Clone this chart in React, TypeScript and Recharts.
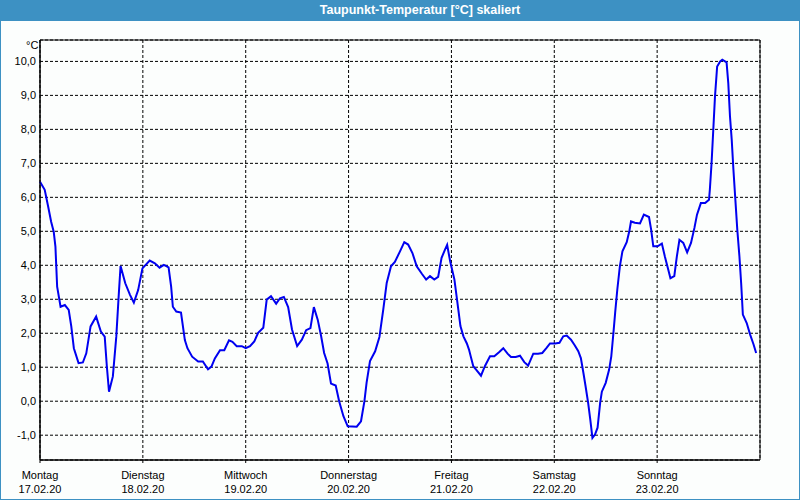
import {
  LineChart,
  Line,
  XAxis,
  YAxis,
  CartesianGrid,
  ReferenceArea,
} from "recharts";

// hours since Monday 17.02.20 00:00
const hours: number[] = [
  0, 1.1, 1.9, 2.6, 3.2, 3.6, 3.8, 4.0, 4.8, 5.8, 6.7, 7.3, 7.9, 9.0, 10.0, 10.8,
  11.8, 13.1, 14.2, 15.1, 15.6, 16.1, 17.0, 17.8, 18.4, 18.8, 19.9, 21.0, 21.9,
  22.9, 23.9, 25.6, 26.8, 27.9, 28.9, 30.0, 30.6, 31.0, 31.8, 32.9, 33.8, 34.4,
  35.5, 36.9, 38.0, 39.2, 40.0, 40.8, 42.0, 43.0, 44.1, 44.9, 45.9, 47.1, 48.0,
  49.0, 50.0, 50.9, 52.1, 52.9, 53.9, 55.1, 56.0, 56.9, 57.9, 58.8, 60.0, 61.1,
  62.1, 63.1, 63.9, 64.8, 65.6, 66.3, 67.1, 67.9, 69.0, 69.8, 70.8, 71.8, 73.9,
  74.9, 75.7, 76.2, 77.0, 78.2, 79.2, 80.1, 80.9, 81.9, 82.8, 84.0, 85.0, 85.9,
  86.9, 87.9, 89.1, 90.1, 91.0, 92.0, 92.9, 93.7, 94.5, 95.0, 95.7, 96.7, 97.2,
  97.6, 98.1, 98.8, 99.6, 100.1, 100.6, 101.1, 101.9, 102.9, 103.8, 105.0,
  106.0, 107.1, 108.1, 109.1, 109.9, 111.0, 112.0, 113.0, 113.9, 115.1, 116.2,
  117.2, 118.2, 119.0, 120.2, 121.2, 122.1, 122.9, 123.9, 124.8, 125.6, 126.2,
  126.8, 127.3, 127.9, 128.4, 128.9, 129.5, 130.1, 130.7, 131.1, 132.0, 132.8,
  133.3, 133.8, 134.2, 134.7, 135.3, 135.9, 136.9, 137.5, 137.9, 138.8, 140.0,
  140.9, 142.1, 142.6, 143.1, 144.1, 145.1, 145.8, 146.6, 147.1, 148.0, 148.6,
  149.2, 150.1, 151.0, 151.9, 152.7, 153.3, 154.2, 155.2, 156.1, 156.3, 156.7,
  157.1, 157.5, 158.0, 158.7, 159.2, 160.2, 160.6, 161.0, 161.4, 161.8, 162.2,
  162.7, 163.2, 163.6, 164.0, 164.9, 165.7, 166.5, 167.1,
];

const dewPoint: number[] = [
  6.46, 6.22, 5.73, 5.28, 4.99, 4.55, 3.96, 3.37, 2.78, 2.83, 2.69, 2.2, 1.56,
  1.12, 1.14, 1.41, 2.2, 2.49, 2.05, 1.9, 1.02, 0.28, 0.73, 1.9, 3.18, 3.98,
  3.47, 3.13, 2.9, 3.27, 3.91, 4.14, 4.06, 3.93, 4.01, 3.94, 3.37, 2.78, 2.64,
  2.61, 1.8, 1.56, 1.31, 1.17, 1.17, 0.94, 1.02, 1.26, 1.5, 1.5, 1.79, 1.75,
  1.62, 1.62, 1.56, 1.62, 1.76, 2.01, 2.16, 2.99, 3.09, 2.87, 3.03, 3.07, 2.77,
  2.11, 1.62, 1.81, 2.09, 2.15, 2.77, 2.4, 1.91, 1.42, 1.11, 0.52, 0.46, 0.0,
  -0.44, -0.74, -0.75, -0.59, 0.0, 0.54, 1.18, 1.47, 1.89, 2.7, 3.48, 3.97, 4.1,
  4.41, 4.68, 4.61, 4.36, 3.97, 3.75, 3.58, 3.68, 3.58, 3.66, 4.22, 4.46, 4.6,
  4.12, 3.58, 3.09, 2.7, 2.21, 1.91, 1.7, 1.52, 1.27, 1.03, 0.91, 0.75, 1.03,
  1.32, 1.32, 1.44, 1.56, 1.4, 1.3, 1.3, 1.34, 1.15, 1.05, 1.4, 1.4, 1.42, 1.57,
  1.7, 1.7, 1.72, 1.91, 1.93, 1.81, 1.64, 1.47, 1.27, 0.83, 0.44, -0.05, -0.54,
  -1.08, -0.98, -0.78, -0.05, 0.28, 0.54, 0.93, 1.32, 2.01, 2.6, 3.28, 3.97,
  4.41, 4.68, 5.0, 5.29, 5.25, 5.23, 5.49, 5.42, 5.05, 4.56, 4.56, 4.64, 4.26,
  3.87, 3.62, 3.68, 4.26, 4.75, 4.66, 4.38, 4.66, 5.1, 5.49, 5.83, 5.83, 5.93,
  6.23, 7.01, 7.99, 8.97, 9.85, 10.0, 10.05, 9.97, 9.36, 8.38, 7.7, 6.81, 6.03,
  5.05, 4.26, 3.48, 2.55, 2.3, 1.96, 1.67, 1.42,
];

const dayTicks = [0, 24, 48, 72, 96, 120, 144];
const dayNames = ["Montag", "Dienstag", "Mittwoch", "Donnerstag", "Freitag", "Samstag", "Sonntag"];
const dayDates = ["17.02.20", "18.02.20", "19.02.20", "20.02.20", "21.02.20", "22.02.20", "23.02.20"];
const yTicks = [-1, 0, 1, 2, 3, 4, 5, 6, 7, 8, 9, 10];
const yMin = -1.73;
const yMax = 10.63;

const chartData = hours.map((h, i) => ({ h, t: dewPoint[i] }));

const FONT = "'Liberation Sans', Arial, sans-serif";

function DayTick(props: any) {
  const { x, y, payload } = props;
  const i = dayTicks.indexOf(payload.value);
  return (
    <text x={x} y={y} textAnchor="middle" fill="#000" fontSize={11} fontFamily={FONT}>
      <tspan x={x} dy={15}>{dayNames[i]}</tspan>
      <tspan x={x} dy={14}>{dayDates[i]}</tspan>
    </text>
  );
}

export default function App() {
  return (
    <div
      style={{
        position: "absolute",
        left: 0,
        top: 0,
        width: 800,
        height: 500,
        boxSizing: "border-box",
        border: "1px solid #3d91c3",
        background: "#fcfefd",
        fontFamily: FONT,
      }}
    >
      <div
        style={{
          position: "absolute",
          left: -1,
          top: -1,
          width: 800,
          height: 21,
          background: "#3d91c3",
          color: "#fff",
          fontWeight: "bold",
          fontSize: 12.5,
          lineHeight: "20px",
        }}
      >
        <span style={{ position: "absolute", left: 420, transform: "translateX(-50%)", whiteSpace: "nowrap" }}>
          Taupunkt-Temperatur [°C] skaliert
        </span>
      </div>
      <span
        style={{ position: "absolute", left: 25, top: 38, fontSize: 11, color: "#000" }}
      >
        °C
      </span>
      <div style={{ position: "absolute", left: -1, top: -1 }}>
        <LineChart
          width={800}
          height={500}
          data={chartData}
          margin={{ top: 40, right: 40, bottom: 0, left: 0 }}
        >
          <CartesianGrid stroke="#000" strokeDasharray="3 2" />
          <XAxis
            dataKey="h"
            type="number"
            domain={[0, 168]}
            ticks={dayTicks}
            height={40}
            tickSize={3}
            tickMargin={1}
            stroke="#000"
            axisLine={{ stroke: "#000" }}
            tickLine={{ stroke: "#000" }}
            tick={<DayTick />}
            interval={0}
          />
          <YAxis
            type="number"
            domain={[yMin, yMax]}
            ticks={yTicks}
            allowDataOverflow
            width={40}
            tickSize={0}
            tickMargin={4}
            axisLine={{ stroke: "#000" }}
            tickLine={false}
            tick={{ fill: "#000", fontSize: 11, fontFamily: FONT }}
            tickFormatter={(v: number) => v.toFixed(1).replace(".", ",")}
            interval={0}
          />
          <ReferenceArea
            x1={0}
            x2={168}
            y1={yMin}
            y2={yMax}
            fill="none"
            stroke="#000"
            strokeWidth={1}
          />
          <Line
            dataKey="t"
            type="linear"
            stroke="#0000f0"
            strokeWidth={2}
            dot={false}
            isAnimationActive={false}
          />
        </LineChart>
      </div>
    </div>
  );
}
